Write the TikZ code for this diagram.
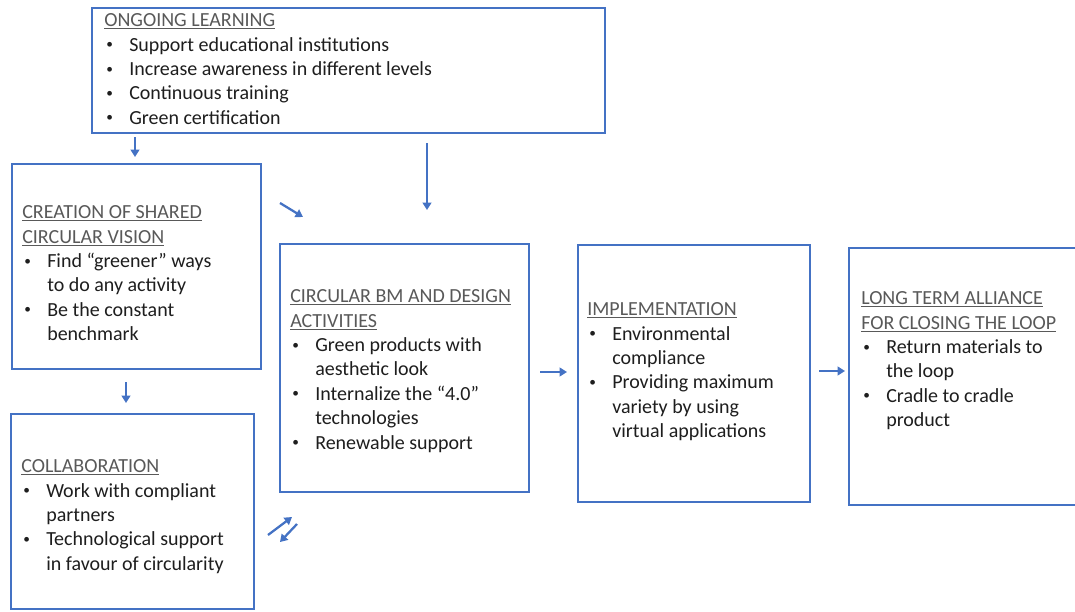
\documentclass[tikz,border=0pt]{standalone}
\usepackage{fontspec}
\setmainfont{Carlito}
\usepackage{array}
\usetikzlibrary{arrows.meta}
\definecolor{obl}{HTML}{4472C4}
\definecolor{headgray}{HTML}{595959}
\definecolor{bodyc}{HTML}{1E1E1E}
\newcommand{\smbul}{\hspace{1.5pt}\raisebox{0.12em}{\fontsize{10}{10}\selectfont\textbullet}}
\newcommand{\hd}[1]{\multicolumn{2}{@{}l@{}}{\color{headgray}\underline{#1}}\\}
\newcommand{\bl}[1]{\smbul & #1\\}
\newcommand{\cl}[1]{ & #1\\}
\newenvironment{blist}{\begin{tabular}{@{}p{18.75pt}@{}l@{}}}{\end{tabular}}
\begin{document}
\begin{tikzpicture}[x=0.75pt,y=-0.75pt,
  box/.style 2 args={draw=obl, line width=2.1pt, rectangle, inner sep=0pt, outer sep=0pt,
    minimum width={#1*0.75pt}, minimum height={#2*0.75pt}},
  txt/.style={anchor=north west, inner sep=0pt, text=bodyc, font=\fontsize{15}{18.3}\selectfont},
  arr/.style={draw=obl, line width=1.7pt, -{Triangle[length=5.5pt,width=6.5pt]}}]
\useasboundingbox (0,0) rectangle (1075,611);
\fill[white] (0,0) rectangle (1075,611);
% boxes
\node[box={513}{125}] (ong) at (348.5,70.5) {};
\node[box={249}{205}] (cre) at (136.5,266.5) {};
\node[box={243}{195}] (col) at (132.5,511.5) {};
\node[box={249}{248}] (bm) at (404.5,368) {};
\node[box={232}{257}] (imp) at (694,373.5) {};
\node[box={246}{257}] (lta) at (972,376.5) {};
% texts
\node[txt] (ongt) at (104,9.4) {\begin{blist}
\hd{ONGOING LEARNING}
\bl{Support educational institutions}
\bl{Increase awareness in different levels}
\bl{Continuous training}
\bl{Green certification}
\end{blist}};
\node[txt] (cret) at (22,201.4) {\begin{blist}
\hd{CREATION OF SHARED}
\hd{CIRCULAR VISION}
\bl{Find “greener” ways}
\cl{to do any activity}
\bl{Be the constant}
\cl{benchmark}
\end{blist}};
\node[txt] (colt) at (21,455.4) {\begin{blist}
\hd{COLLABORATION}
\bl{Work with compliant}
\cl{partners}
\bl{Technological support}
\cl{in favour of circularity}
\end{blist}};
\node[txt] (bmt) at (290,285.4) {\begin{blist}
\hd{CIRCULAR BM AND DESIGN}
\hd{ACTIVITIES}
\bl{Green products with}
\cl{aesthetic look}
\bl{Internalize the “4.0”}
\cl{technologies}
\bl{Renewable support}
\end{blist}};
\node[txt] (impt) at (587,298.4) {\begin{blist}
\hd{IMPLEMENTATION}
\bl{Environmental}
\cl{compliance}
\bl{Providing maximum}
\cl{variety by using}
\cl{virtual applications}
\end{blist}};
\node[txt] (ltat) at (861,287.4) {\begin{blist}
\hd{LONG TERM ALLIANCE}
\hd{FOR CLOSING THE LOOP}
\bl{Return materials to}
\cl{the loop}
\bl{Cradle to cradle}
\cl{product}
\end{blist}};
% arrow end points
\coordinate (a1s) at (135,137); \coordinate (a1e) at (135,157);
\coordinate (a2s) at (427,143); \coordinate (a2e) at (427,210);
\coordinate (a3s) at (280,203); \coordinate (a3e) at (303,217);
\coordinate (a4s) at (126,382); \coordinate (a4e) at (126,403);
\coordinate (a5s) at (540,372); \coordinate (a5e) at (567,372);
\coordinate (a6s) at (819,371); \coordinate (a6e) at (845,371);
\coordinate (a7s) at (268,535); \coordinate (a7e) at (292,517);
\coordinate (a8s) at (297,524); \coordinate (a8e) at (280,542);
\draw[arr] (a1s) -- (a1e);
\draw[arr] (a2s) -- (a2e);
\draw[arr] (a3s) -- (a3e);
\draw[arr] (a4s) -- (a4e);
\draw[arr] (a5s) -- (a5e);
\draw[arr] (a6s) -- (a6e);
\draw[arr] (a7s) -- (a7e);
\draw[arr] (a8s) -- (a8e);
\end{tikzpicture}
\end{document}
